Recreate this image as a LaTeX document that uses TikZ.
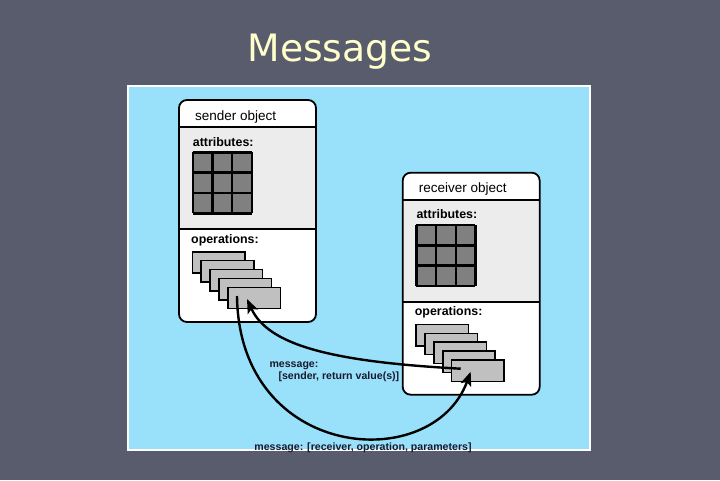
\documentclass[tikz,border=0pt]{standalone}
\usepackage{fontspec}
\setmainfont{Liberation Sans}
\newfontfamily\titlefont{DejaVu Sans}
\usetikzlibrary{arrows.meta}

\definecolor{slidegray}{RGB}{89,92,109}
\definecolor{titleyellow}{RGB}{255,255,204}
\definecolor{panelblue}{RGB}{153,225,250}
\definecolor{attrgray}{RGB}{236,236,236}
\definecolor{cellgray}{RGB}{128,128,128}
\definecolor{cardgray}{RGB}{192,192,192}
\definecolor{labelnavy}{RGB}{25,25,45}

\tikzset{
  boxline/.style={black, line width=1.8pt},
  boxtext/.style={inner sep=0pt, anchor=base west, font=\fontsize{13.5}{15}\selectfont},
  sectext/.style={inner sep=0pt, anchor=base west, font=\bfseries\fontsize{12.4}{14}\selectfont},
  gridline/.style={black, line width=2.4pt},
  card/.style={draw=black, fill=cardgray, line width=1.6pt},
  msgtext/.style={inner sep=0pt, anchor=base west, text=labelnavy, font=\bfseries\fontsize{10.6}{12}\selectfont},
  msgarrow/.style={black, line width=2.4pt, -{Stealth[length=14pt, width=11pt, inset=3pt]}}
}

% one object: #1 name, #2 top left corner, #3 title
\newcommand{\objectbox}[3]{%
  \begin{scope}[shift={#2}]
    \fill[white, rounded corners=8pt] (0,0) rectangle (137,222);
    \fill[attrgray] (0,27.3) rectangle (137,129);
    \draw[boxline, rounded corners=8pt] (0,0) rectangle (137,222);
    \draw[boxline] (0,27.3) -- (137,27.3);
    \draw[boxline] (0,129) -- (137,129);
    \node[boxtext] (#1-title) at (16,20) {#3};
    \node[sectext] (#1-attr) at (13.7,46) {attributes:};
    \node[sectext] (#1-ops) at (12,143) {operations:};
    % attribute grid
    \fill[cellgray] (13.7,52.3) rectangle (72.7,113.3);
    \foreach \i in {0,...,3} {
      \draw[gridline] ({13.7+59/3*\i},52.3) -- ({13.7+59/3*\i},113.3);
      \draw[gridline] (13.7,{52.3+61/3*\i}) -- (72.7,{52.3+61/3*\i});
    }
    % stack of operations
    \foreach \k in {0,...,4}
      \draw[card] ({13.3+8.9*\k},{151.7+8.9*\k}) rectangle +(52.5,21.3);
    \coordinate (#1-out) at (58,196);
    \coordinate (#1-in) at (68,199);
  \end{scope}}

\begin{document}
\begin{tikzpicture}[x=1pt, y=-1pt]
  \useasboundingbox (0,0) rectangle (720,480);
  \fill[slidegray] (0,0) rectangle (720,480);

  \node[anchor=base, text=titleyellow, font=\titlefont\fontsize{37.7}{40}\selectfont] (title) at (340,61) {Messages};

  % panel
  \fill[white] (127,85) rectangle (590.5,450.5);
  \fill[panelblue] (128.7,86.7) rectangle (588.8,448.8);

  \objectbox{sender}{(179,100)}{sender object}
  \objectbox{receiver}{(402.7,172.7)}{receiver object}

  % messages
  \draw[msgarrow] (sender-out) .. controls +(2,165) and +(-38,104) .. (receiver-in);
  \draw[msgarrow] (receiver-out) .. controls +(-130,-7) and +(21,46) .. (sender-in);

  \node[msgtext] (reply1) at (269.3,367.3) {message:};
  \node[msgtext] (reply2) at (278.3,379) {[sender, return value(s)]};
  \node[msgtext, anchor=base] (call) at (363,450) {message: [receiver, operation, parameters]};
\end{tikzpicture}
\end{document}
